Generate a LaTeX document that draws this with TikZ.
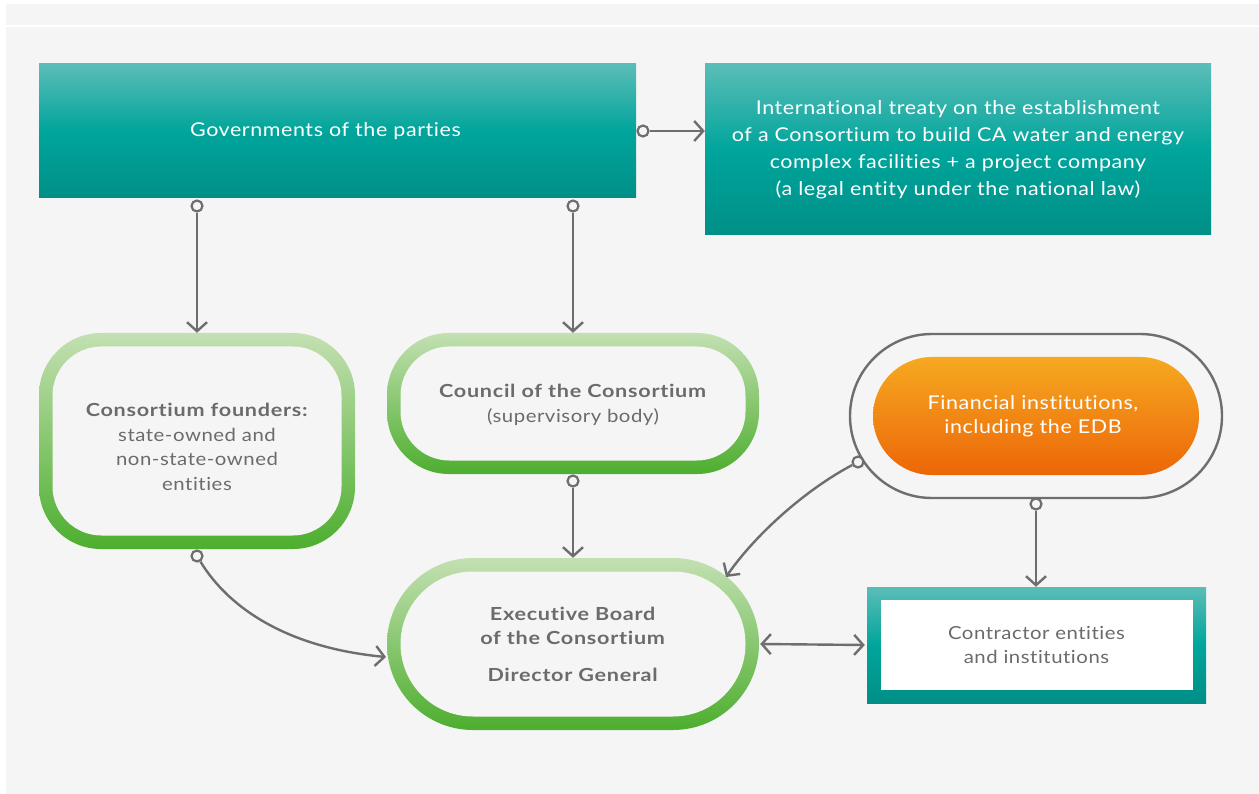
\documentclass[tikz,border=0pt]{standalone}
\usepackage{fontspec}
\setmainfont{Lato}[FakeStretch=1.13, LetterSpace=3, Ligatures=NoCommon, BoldFeatures={FakeStretch=1.2, LetterSpace=4}]
\usetikzlibrary{arrows.meta}
\definecolor{bg}{HTML}{F5F5F5}
\definecolor{tealA}{HTML}{5BBDB7}
\definecolor{tealB}{HTML}{00A59C}
\definecolor{tealC}{HTML}{008F87}
\definecolor{grnA}{HTML}{C3E0B2}
\definecolor{grnB}{HTML}{4DAE2E}
\definecolor{orA}{HTML}{F6A921}
\definecolor{orB}{HTML}{EC6608}
\definecolor{txt}{HTML}{6B6B6B}
\definecolor{ln}{HTML}{6E6E6E}
\begin{document}
\begin{tikzpicture}[x=1pt,y=-1pt,
  tealbox/.style={top color=tealA, bottom color=tealC, middle color=tealB, inner sep=0pt, text=white, align=center, font=\fontsize{19}{27}\selectfont},
  greenring/.style={top color=grnA, bottom color=grnB, inner sep=0pt},
  innerbox/.style={fill=bg, text=txt, align=center, inner sep=0pt, font=\fontsize{18}{24.5}\selectfont},
  lbl/.style={text=txt, align=center, inner sep=0pt, font=\fontsize{18}{24.5}\selectfont},
  conn/.style={draw=ln, line width=2.4pt, -{Straight Barb[length=9pt,width=20pt]}},
  dot/.style={circle, draw=ln, fill=bg, line width=2.2pt, minimum size=11pt, inner sep=0pt}]
\useasboundingbox (0,0) rectangle (1259,794);
\fill[white] (0,0) rectangle (1259,794);
\fill[bg] (6,4) rectangle (1259,794);
\draw[white, line width=1.2pt] (6,26) -- (1259,26);

% top boxes
\node[tealbox, minimum width=597pt, minimum height=134pt] (gov) at (337.5,131) {Governments of the parties\hspace*{24pt}};
\node[tealbox, minimum width=506pt, minimum height=171pt] (tr) at (958,149.5)
  {International treaty on the establishment\\of a Consortium to build CA water and energy\\complex facilities + a project company\\(a legal entity under the national law)};

% founders
\node[greenring, rounded corners=62pt, minimum width=316pt, minimum height=216pt] (fo) at (197,441) {};
\node[innerbox, rounded corners=49pt, minimum width=289pt, minimum height=189pt] (foi) at (fo.center) {};
\node[lbl] (fot) at ([yshift=-6pt]foi.center)
  {\textbf{Consortium founders:}\\state-owned and\\non-state-owned\\entities};

% council
\node[greenring, rounded corners=62pt, minimum width=372pt, minimum height=141pt] (co) at (573,403.5) {};
\node[innerbox, rounded corners=49pt, minimum width=345pt, minimum height=114pt] (coi) at (co.center) {};
\node[lbl] (cot) at ([yshift=-1.5pt]coi.center)
  {\textbf{Council of the Consortium}\\(supervisory body)};

% executive
\node[greenring, rounded corners=86pt, minimum width=372pt, minimum height=172pt] (ex) at (573,644) {};
\node[innerbox, rounded corners=72.5pt, minimum width=345pt, minimum height=145pt] (exi) at (ex.center)
  {\textbf{Executive Board}\\\textbf{of the Consortium}\\[12pt]\textbf{Director General}};

% financial
\node[draw=ln, line width=2.4pt, rounded corners=82pt, minimum width=372pt, minimum height=164pt, inner sep=0pt] (fi) at (1036,416) {};
\node[top color=orA, bottom color=orB, rounded corners=59pt, minimum width=326pt, minimum height=118pt, inner sep=0pt, text=white, align=center, font=\fontsize{19}{24.5}\selectfont] (fii) at (fi.center)
  {Financial institutions,\hspace*{6pt}\\including the EDB\hspace*{6pt}};

% contractor
\node[top color=tealA, bottom color=tealC, middle color=tealB, minimum width=339pt, minimum height=116pt, inner sep=0pt] (ct) at (1036.5,645) {};
\node[fill=white, minimum width=312pt, minimum height=90pt, inner sep=0pt, text=txt, align=center, font=\fontsize{18}{24.5}\selectfont] (cti) at (ct.center)
  {Contractor entities\\and institutions};

% dots
\node[dot] (d1) at (197,206) {};
\node[dot] (d2) at (573,206) {};
\node[dot] (d3) at (643,131) {};
\node[dot] (d4) at (573,481) {};
\node[dot] (d5) at (197,556) {};
\node[dot] (d6) at (858,462) {};
\node[dot] (d7) at (1036,504) {};
\coordinate (exne) at (726,577);
\coordinate (exw) at (386,657);

% connectors
\draw[conn] (d1) -- (d1 |- fo.north);
\draw[conn] (d2) -- (d2 |- co.north);
\draw[conn] (d3) -- (d3 -| tr.west);
\draw[conn] (d4) -- (d4 |- ex.north);
\draw[conn] (d7) -- (d7 |- ct.north);
\draw[conn] (d5) .. controls (230,610) and (290,648) .. (exw);
\draw[conn] (d6) .. controls (805,490) and (755,535) .. (exne);
\draw[conn, {Straight Barb[length=9pt,width=20pt]}-{Straight Barb[length=9pt,width=20pt]}] ([xshift=1pt]ex.east) -- ([xshift=-2pt]ct.west);
\end{tikzpicture}
\end{document}
